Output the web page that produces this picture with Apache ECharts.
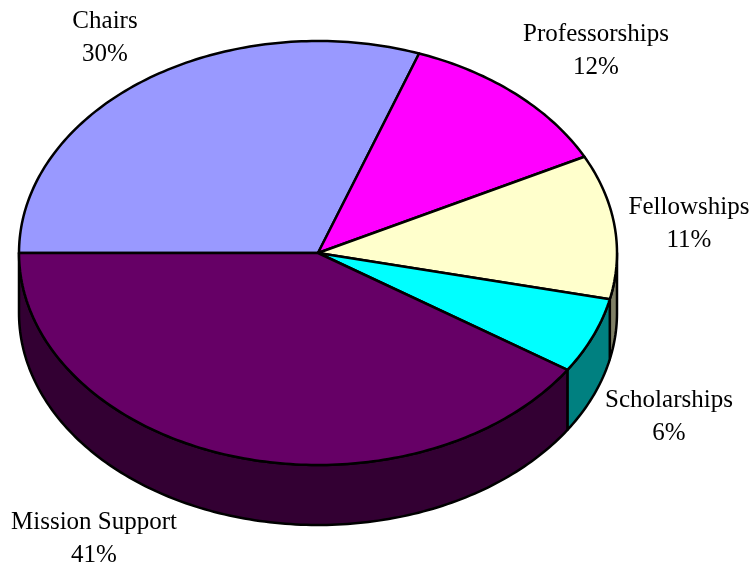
<!DOCTYPE html>
<html><head><meta charset="utf-8">
<style>html,body{margin:0;padding:0;background:#fff}#c{width:755px;height:566px}</style>
<script src="https://cdn.jsdelivr.net/npm/echarts@6/dist/echarts.min.js"></script>
</head><body><div id="c"></div>
<script>
const categories = ['Chairs','Professorships','Fellowships','Scholarships','Mission Support'];
const shares = [30.49, 12.01, 11.0, 5.8, 40.7];

const topColors = ['#9999ff','#ff00ff','#ffffcc','#00ffff','#660066'];
const wallColors = ['#4d4d80','#800080','#808066','#008080','#330033'];
const labelCenters = [[105,38],[596,51],[689,224],[669,417],[94,539]];
const CX=318, CY=253, RX=299, RY=212, DEPTH=60;
const total = shares.reduce((a,b)=>a+b,0);
const START = 180;

function range(i){
  let before = 0;
  for(let k=0;k<i;k++) before += shares[k];
  return [START - before/total*360, START - (before+shares[i])/total*360];
}
function arc(a0,a1,dy){
  const n = Math.max(2,Math.ceil(Math.abs(a0-a1)));
  const pts=[];
  for(let k=0;k<=n;k++){
    const t=(a0+(a1-a0)*k/n)*Math.PI/180;
    pts.push([CX+RX*Math.cos(t), CY-RY*Math.sin(t)+dy]);
  }
  return pts;
}
const line = {stroke:'#000',lineWidth:2.5,lineJoin:'round'};
function renderWall(p,api){
  const [a0,a1]=range(p.dataIndex);
  const s=Math.min(a0,0), e=Math.max(a1,-180);
  if(s<=e) return {type:'group',children:[]};
  const pts=arc(s,e,0).concat(arc(e,s,DEPTH));
  return {type:'polygon',shape:{points:pts},style:Object.assign({fill:wallColors[p.dataIndex]},line)};
}
function renderTop(p,api){
  const [a0,a1]=range(p.dataIndex);
  const pts=[[CX,CY]].concat(arc(a0,a1,0));
  return {type:'polygon',shape:{points:pts},style:Object.assign({fill:topColors[p.dataIndex]},line)};
}
function renderLabel(p,api){
  const i=p.dataIndex;
  return {type:'text',x:labelCenters[i][0],y:labelCenters[i][1],
    style:{text:categories[i]+'\n'+Math.round(api.value(0))+'%',
      font:'25px "Liberation Serif"',lineHeight:33,fill:'#000',align:'center',verticalAlign:'middle'}};
}
const data = shares.map(v=>[v]);
const chart = echarts.init(document.getElementById('c'),null,{renderer:'canvas'});
chart.setOption({
  animation:false,
  backgroundColor:'#fff',
  series:[
    {type:'custom',coordinateSystem:'none',renderItem:renderWall,data:data,z:1,silent:true},
    {type:'custom',coordinateSystem:'none',renderItem:renderTop,data:data,z:2,silent:true},
    {type:'custom',coordinateSystem:'none',renderItem:renderLabel,data:data,z:3,silent:true}
  ]
});
</script></body></html>
